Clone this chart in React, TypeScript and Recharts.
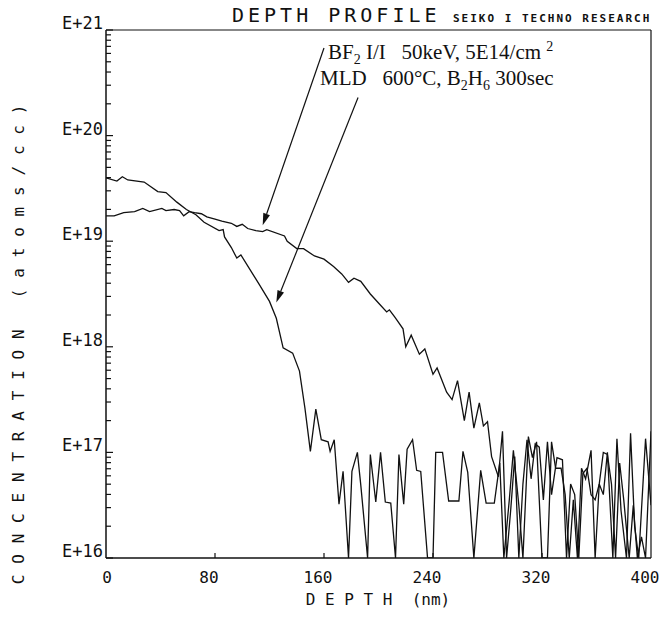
import React from "react";
import { LineChart, Line, XAxis, YAxis, ReferenceLine } from "recharts";

// depth in nm, concentration as log10(atoms/cc)
const depthTicks = [0, 80, 160, 240, 320, 400];
const decadeTicks = [16, 17, 18, 19, 20, 21];
const minorSteps = [2, 3, 4, 5, 6, 7, 8, 9];

// MLD 600°C, B2H6 300sec
const mldDepth = [
  0, 8, 12, 16, 28, 38, 44, 52, 59, 66, 72, 83, 86, 87, 92, 96, 99, 112, 120, 125,
  130, 137, 142, 146, 150, 154, 158, 163, 164.5, 167.5, 171, 174, 178, 180.5, 184.5, 187, 192, 194, 198, 201.5,
  205, 209, 212.5, 215, 218.5, 221, 225, 228, 231, 236, 240, 242, 247, 251.5, 259, 262, 265.5, 270, 275, 279,
  285, 289, 292, 296, 299, 303, 306, 310, 313, 316, 320, 324, 327, 330, 334, 337, 340, 343, 346, 349,
  352, 356, 359, 362, 365, 368, 372, 375, 378, 382, 385, 388, 391, 396, 400,
];
const mldLog = [
  19.6, 19.57, 19.61, 19.58, 19.56, 19.47, 19.46, 19.37, 19.3, 19.25, 19.18, 19.1, 19.11, 19.04, 18.94, 18.84, 18.87, 18.6, 18.43, 18.27,
  17.99, 17.94, 17.77, 17.42, 17.01, 17.41, 17.12, 17.1, 17.01, 17.12, 16.51, 16.82, 16.0, 16.82, 17.0, 16.69, 16.0, 16.98, 16.53, 17.0,
  16.53, 16.52, 16.0, 16.98, 16.51, 17.03, 17.12, 16.83, 16.82, 16.0, 16.0, 17.0, 17.0, 16.54, 16.54, 17.01, 16.81, 16.0, 16.83, 16.52,
  16.52, 16.9, 16.0, 16.55, 17.02, 16.5, 16.0, 17.15, 16.95, 17.1, 16.0, 16.0, 17.1, 16.85, 16.85, 16.6, 16.0, 16.55, 16.0, 16.85,
  16.75, 17.02, 16.0, 16.7, 16.6, 17.0, 16.0, 17.13, 16.45, 16.0, 17.18, 16.3, 16.0, 17.13, 16.5,
];

// BF2 I/I 50keV, 5E14/cm2
const bf2Depth = [
  0, 6, 13, 21, 27, 32, 41, 44, 50, 54, 57, 61, 65, 70, 74, 80, 85, 92, 96, 100,
  104, 110, 115, 118, 131, 133, 140, 145, 153, 160, 167, 173, 178, 182, 187, 194, 201, 206, 208, 212,
  218, 220, 224, 230, 234, 240, 243, 250, 254, 258, 263, 266.5, 270, 274, 277, 280, 283, 288, 291, 294,
  297, 300, 303, 306, 309, 312, 315, 318, 321, 324, 327, 331, 335, 338, 341, 344, 347, 350, 353, 356,
  359, 362, 365, 368, 371, 374, 377, 380, 384, 387, 390, 393, 396, 399, 400,
];
const bf2Log = [
  19.24, 19.24, 19.27, 19.28, 19.31, 19.28, 19.31, 19.29, 19.3, 19.29, 19.24, 19.28, 19.27, 19.26, 19.23, 19.21, 19.19, 19.17, 19.14, 19.16,
  19.12, 19.1, 19.09, 19.11, 19.05, 19.0, 18.93, 18.93, 18.86, 18.83, 18.76, 18.69, 18.61, 18.65, 18.62, 18.5, 18.4, 18.33, 18.35, 18.28,
  18.17, 18.0, 18.11, 17.93, 17.98, 17.74, 17.8, 17.57, 17.5, 17.68, 17.3, 17.57, 17.23, 17.47, 17.25, 17.29, 16.96, 16.77, 17.2, 16.0,
  16.45, 16.96, 16.0, 16.7, 17.12, 16.75, 17.08, 17.05, 16.55, 17.1, 16.6, 16.95, 16.93, 16.0, 16.7, 16.6, 16.0, 16.8, 16.85, 16.6,
  16.55, 16.7, 17.0, 16.98, 16.7, 16.0, 16.9, 16.55, 16.0, 16.5, 16.0, 16.2, 16.0, 16.9, 17.2,
];

// annotation arrows: [fromDepth, fromLog, toDepth, toLog]
const bf2Arrow = [160, 20.83, 115, 19.15];
const mldArrow = [185, 20.36, 125, 18.42];

const mldData = mldDepth.map((d, i) => ({ depth: d, value: mldLog[i] }));
const bf2Data = bf2Depth.map((d, i) => ({ depth: d, value: bf2Log[i] }));

const yTicks = [
  ...decadeTicks,
  ...decadeTicks.slice(0, -1).flatMap(d => minorSteps.map(m => d + Math.log10(m))),
].sort((a, b) => a - b);

const INK = "#111";
const MONO = "'DejaVu Sans Mono', monospace";
const SERIF = "'Liberation Serif', 'Times New Roman', serif";

const isMajor = (v: number) => Math.abs(v - Math.round(v)) < 1e-6;

function LeftTick({ x, y, payload }: any) {
  const v = payload.value;
  const major = isMajor(v);
  return (
    <g>
      <line x1={x} x2={x + (major ? 7 : 5)} y1={y} y2={y} stroke={INK} strokeWidth={1.2} />
      {major && (
        <text x={x - 3} y={y - 1} textAnchor="end" fontFamily={MONO} fontSize={17} fill={INK}>
          {`E+${Math.round(v)}`}
        </text>
      )}
    </g>
  );
}

function RightTick({ x, y, payload }: any) {
  const major = isMajor(payload.value);
  return <line x1={x} x2={x - (major ? 7 : 5)} y1={y} y2={y} stroke={INK} strokeWidth={1.2} />;
}

function BottomTick({ x, y, payload }: any) {
  const v = payload.value;
  const inner = v !== 0 && v !== 400;
  return (
    <g>
      {inner && <line x1={x} x2={x} y1={y} y2={y - 5} stroke={INK} strokeWidth={1.2} />}
      <text x={v === 0 ? x + 1 : x - 6} y={y + 25} textAnchor="middle" fontFamily={MONO} fontSize={16} fill={INK}>
        {v}
      </text>
    </g>
  );
}

function Arrow(p: any) {
  const { x1, y1, x2, y2 } = p;
  const ang = Math.atan2(y2 - y1, x2 - x1);
  const len = 12;
  const half = 3.5;
  const bx = x2 - len * Math.cos(ang);
  const by = y2 - len * Math.sin(ang);
  const nx = -Math.sin(ang) * half;
  const ny = Math.cos(ang) * half;
  return (
    <g>
      <line x1={x1} y1={y1} x2={bx} y2={by} stroke={INK} strokeWidth={1.2} />
      <polygon points={`${x2},${y2} ${bx + nx},${by + ny} ${bx - nx},${by - ny}`} fill={INK} />
    </g>
  );
}

const sub = { fontSize: 14, position: "relative" as const, top: 5 };
const sup = { fontSize: 14, position: "relative" as const, top: -8 };

export default function App() {
  return (
    <div style={{ position: "absolute", left: 0, top: 0, width: 662, height: 618, background: "#fff" }}>
      <LineChart
        width={662}
        height={618}
        margin={{ top: 20, right: 1, bottom: 20, left: 6 }}
      >
        <XAxis
          dataKey="depth"
          type="number"
          domain={[0, 400]}
          ticks={depthTicks}
          interval={0}
          height={40}
          tickSize={0}
          tickMargin={0}
          tick={<BottomTick />}
          axisLine={{ stroke: INK, strokeWidth: 1.5 }}
          allowDataOverflow
        />
        <XAxis
          xAxisId="top"
          orientation="top"
          type="number"
          domain={[0, 400]}
          height={10}
          tick={false}
          tickLine={false}
          axisLine={{ stroke: INK, strokeWidth: 1.2 }}
        />
        <YAxis
          type="number"
          domain={[16, 21]}
          ticks={yTicks}
          interval={0}
          width={100}
          tickSize={0}
          tickMargin={0}
          tick={<LeftTick />}
          axisLine={{ stroke: INK, strokeWidth: 1.5 }}
          allowDataOverflow
        />
        <YAxis
          yAxisId="right"
          orientation="right"
          type="number"
          domain={[16, 21]}
          ticks={yTicks}
          interval={0}
          width={10}
          tickSize={0}
          tickMargin={0}
          tick={<RightTick />}
          axisLine={{ stroke: INK, strokeWidth: 1.2 }}
        />
        <Line
          data={bf2Data}
          dataKey="value"
          type="linear"
          stroke={INK}
          strokeWidth={1.3}
          dot={false}
          isAnimationActive={false}
        />
        <Line
          data={mldData}
          dataKey="value"
          type="linear"
          stroke={INK}
          strokeWidth={1.3}
          dot={false}
          isAnimationActive={false}
        />
        <ReferenceLine
          segment={[{ x: bf2Arrow[0], y: bf2Arrow[1] }, { x: bf2Arrow[2], y: bf2Arrow[3] }]}
          shape={Arrow}
        />
        <ReferenceLine
          segment={[{ x: mldArrow[0], y: mldArrow[1] }, { x: mldArrow[2], y: mldArrow[3] }]}
          shape={Arrow}
        />
      </LineChart>

      {/* title */}
      <div style={{ position: "absolute", left: 232, top: 3, fontFamily: MONO, fontSize: 20, letterSpacing: 4, color: INK, whiteSpace: "pre" }}>
        DEPTH PROFILE
      </div>
      <div style={{ position: "absolute", left: 453, top: 12, fontFamily: MONO, fontSize: 11, fontWeight: 700, letterSpacing: 2, color: INK, whiteSpace: "pre" }}>
        SEIKO I TECHNO RESEARCH
      </div>

      {/* annotations */}
      <div style={{ position: "absolute", left: 328, top: 40, fontFamily: SERIF, fontSize: 21, lineHeight: "24px", color: INK, whiteSpace: "pre" }}>
        BF<span style={sub}>2</span> I/I   50keV, 5E14/cm <span style={sup}>2</span>
      </div>
      <div style={{ position: "absolute", left: 320, top: 66, fontFamily: SERIF, fontSize: 21, lineHeight: "24px", color: INK, whiteSpace: "pre" }}>
        MLD   600°C, B<span style={sub}>2</span>H<span style={sub}>6</span> 300sec
      </div>

      {/* axis titles */}
      <div style={{ position: "absolute", left: 18, top: 339, transform: "translate(-50%, -50%) rotate(-90deg)", fontFamily: MONO, fontSize: 16, letterSpacing: 10.8, color: INK, whiteSpace: "pre" }}>
        CONCENTRATION (atoms/cc)
      </div>
      <div style={{ position: "absolute", left: 378, top: 590, transform: "translateX(-50%)", fontFamily: MONO, fontSize: 16, color: INK, whiteSpace: "pre" }}>
        D E P T H  (nm)
      </div>
    </div>
  );
}
